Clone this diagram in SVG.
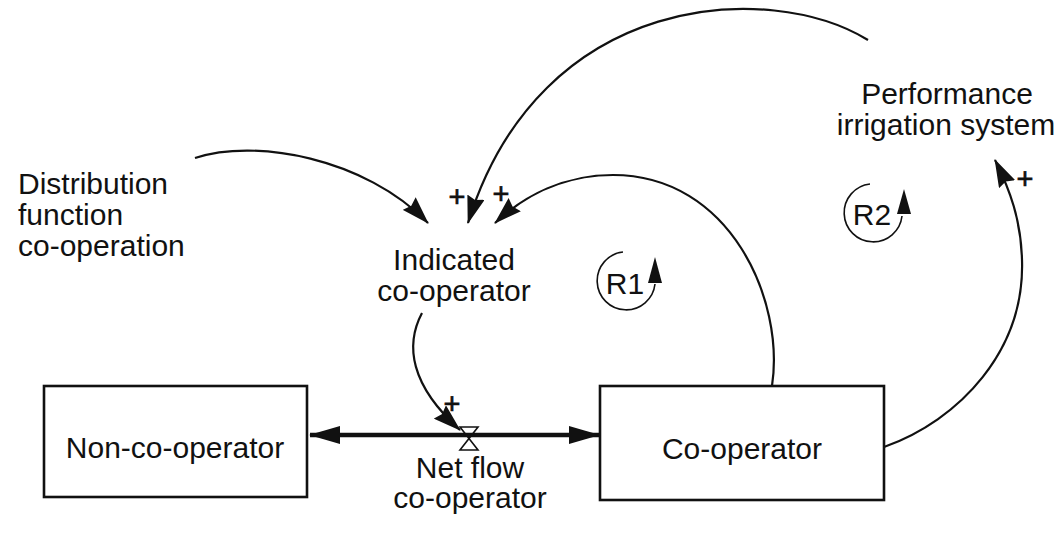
<svg xmlns="http://www.w3.org/2000/svg" width="1054" height="534" viewBox="0 0 1054 534">
  <style>
    .lbl { font-family: "Liberation Sans", Arial, sans-serif; font-size: 30px; fill: #111; }
    .mid { text-anchor: middle; }
    .sign { font-family: "Liberation Sans", Arial, sans-serif; font-size: 29px; fill: #111; stroke: #111; stroke-width: 0.7; text-anchor: middle; }
    .stock { fill: #fff; stroke: #111; stroke-width: 2.6; }
    .link { fill: none; stroke: #111; stroke-width: 2.2; marker-end: url(#head); }
    .flow { fill: none; stroke: #111; stroke-width: 4.5; }
    .loop { fill: none; stroke: #111; stroke-width: 1.6; }
  </style>
  <defs>
    <marker id="head" markerUnits="userSpaceOnUse" viewBox="0 0 28 18" markerWidth="28" markerHeight="18" refX="27" refY="9" orient="auto">
      <path d="M0,0 L28,9 L0,18 L3,9 Z" fill="#111"/>
    </marker>
    <marker id="flowhead" markerUnits="userSpaceOnUse" viewBox="0 0 31 18" markerWidth="31" markerHeight="18" refX="30" refY="9" orient="auto">
      <path d="M0,0 L31,9 L0,18 Z" fill="#111"/>
    </marker>
  </defs>

  <!-- connectors -->
  <g id="connectors">
    <!-- material flow between the two stocks -->
    <line class="flow" x1="469" y1="435" x2="310" y2="435" marker-end="url(#flowhead)"/>
    <line class="flow" x1="469" y1="435" x2="599" y2="435" marker-end="url(#flowhead)"/>
    <!-- causal links -->
    <path class="link" d="M195,158 C255,138 365,158 428,223"/>
    <path class="link" d="M868,40 C770,-20 540,-10 468,223"/>
    <path class="link" d="M772,386 C785,300 730,175 613,175 C565,175 525,195 495,223"/>
    <path class="link" d="M884,447 C960,420 1025,350 1022,260 C1021,220 1010,190 995,160"/>
    <path class="link" d="M422,313 C405,345 410,385 460,430"/>
    <!-- polarity signs -->
    <text class="sign" x="457" y="207">+</text>
    <text class="sign" x="501" y="204">+</text>
    <text class="sign" x="452" y="414">+</text>
    <text class="sign" x="1025" y="189">+</text>
  </g>

  <!-- valve -->
  <g id="valve">
    <path d="M460,427 L478,427 L460,450 L478,450 Z" fill="none" stroke="#111" stroke-width="1.6"/>
  </g>

  <g id="non-co-operator">
    <rect class="stock" x="44" y="386" width="263" height="111"/>
    <text class="lbl mid" x="175" y="458">Non-co-operator</text>
  </g>

  <g id="co-operator">
    <rect class="stock" x="600" y="386" width="284" height="114"/>
    <text class="lbl mid" x="742" y="459">Co-operator</text>
  </g>

  <g id="distribution-function">
    <text class="lbl" x="18" y="194">Distribution</text>
    <text class="lbl" x="18" y="225">function</text>
    <text class="lbl" x="18" y="256">co-operation</text>
  </g>

  <g id="indicated-co-operator">
    <text class="lbl mid" x="454" y="270">Indicated</text>
    <text class="lbl mid" x="454" y="301">co-operator</text>
  </g>

  <g id="performance">
    <text class="lbl mid" x="947" y="104">Performance</text>
    <text class="lbl mid" x="946" y="135">irrigation system</text>
  </g>

  <g id="net-flow">
    <text class="lbl mid" x="470" y="478">Net flow</text>
    <text class="lbl mid" x="470" y="508">co-operator</text>
  </g>

  <!-- reinforcing loop markers -->
  <g id="loop-r1">
    <path class="loop" d="M623,252 A29,29 0 1 0 655,284"/>
    <path d="M655,257 L662,283 L648,283 Z" fill="#111"/>
    <text class="lbl mid" x="625" y="294">R1</text>
  </g>

  <g id="loop-r2">
    <path class="loop" d="M870,184 A29,29 0 1 0 902,216"/>
    <path d="M904,189 L911,214 L897,214 Z" fill="#111"/>
    <text class="lbl mid" x="872" y="225">R2</text>
  </g>
</svg>
